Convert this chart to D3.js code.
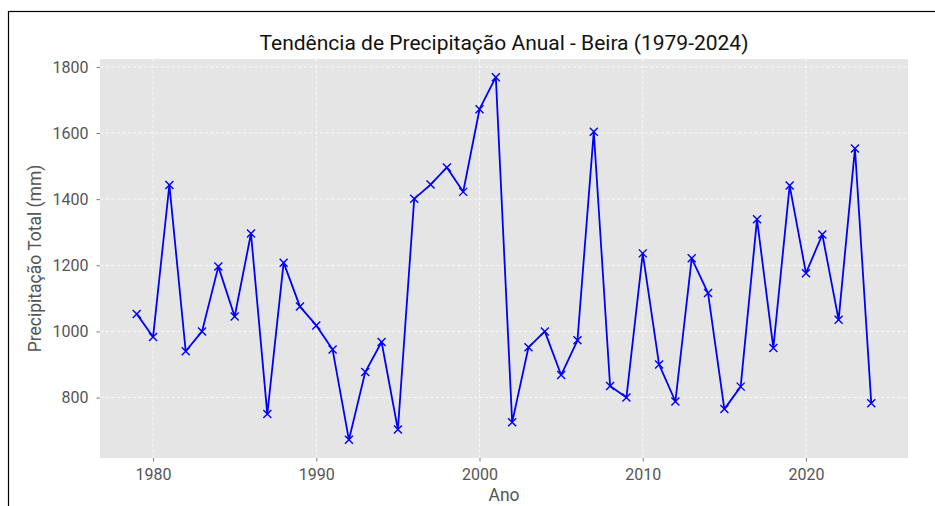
<!DOCTYPE html>
<html>
<head>
<meta charset="utf-8">
<script src="https://cdn.jsdelivr.net/npm/d3@7"></script>
<style>
  html, body { margin: 0; padding: 0; background: #fff; }
  svg { display: block; font-family: Roboto, "Open Sans", sans-serif; }
</style>
</head>
<body>
<svg id="chart" width="935" height="506"></svg>
<script>
// Annual precipitation totals for Beira, 1979-2024 (mm)
const years = d3.range(1979, 2025);
const precipitation = [
  1053, 983, 1443, 940, 1000, 1196, 1045, 1296, 750, 1208,
  1075, 1018, 945, 672, 877, 968, 703, 1401, 1444, 1496,
  1422, 1672, 1769, 725, 952, 1000, 868, 973, 1604, 835,
  800, 1236, 900, 788, 1221, 1116, 765, 833, 1339, 950,
  1441, 1176, 1293, 1035, 1553, 783
];
const xTicks = [1980, 1990, 2000, 2010, 2020];
const yTicks = [800, 1000, 1200, 1400, 1600, 1800];

const titleText = "Tendência de Precipitação Anual - Beira (1979-2024)";
const xLabel = "Ano";
const yLabel = "Precipitação Total (mm)";

const svg = d3.select("#chart");
const plot = { left: 100, right: 908, top: 59, bottom: 458 };

// Figure frame
svg.append("rect")
  .attr("x", 8.5).attr("y", 11.5)
  .attr("width", 1000).attr("height", 600)
  .attr("fill", "none").attr("stroke", "#000").attr("stroke-width", 1.2);

// 5% margins on both axes
const xPad = (years[years.length - 1] - years[0]) * 0.05;
const x = d3.scaleLinear()
  .domain([years[0] - xPad, years[years.length - 1] + xPad])
  .range([plot.left, plot.right]);
const [yMin, yMax] = d3.extent(precipitation);
const yPad = (yMax - yMin) * 0.05;
const y = d3.scaleLinear()
  .domain([yMin - yPad, yMax + yPad])
  .range([plot.bottom, plot.top]);

// Panel background
svg.append("rect")
  .attr("x", plot.left).attr("y", plot.top)
  .attr("width", plot.right - plot.left).attr("height", plot.bottom - plot.top)
  .attr("fill", "#e5e5e5");

// Grid
const grid = svg.append("g").attr("stroke", "#fff").attr("stroke-width", 0.8)
  .attr("stroke-dasharray", "3.5,2").attr("opacity", 0.9);
grid.selectAll(".gx").data(xTicks).join("line")
  .attr("x1", d => x(d)).attr("x2", d => x(d))
  .attr("y1", plot.top).attr("y2", plot.bottom);
grid.selectAll(".gy").data(yTicks).join("line")
  .attr("x1", plot.left).attr("x2", plot.right)
  .attr("y1", d => y(d)).attr("y2", d => y(d));

// Axes
const xAxis = svg.append("g")
  .attr("transform", `translate(0,${plot.bottom})`)
  .call(d3.axisBottom(x).tickValues(xTicks).tickFormat(d3.format("d")).tickSize(3.5).tickPadding(7.5));
const yAxis = svg.append("g")
  .attr("transform", `translate(${plot.left},0)`)
  .call(d3.axisLeft(y).tickValues(yTicks).tickFormat(d3.format("d")).tickSize(3.5).tickPadding(8));
[xAxis, yAxis].forEach(ax => {
  ax.select(".domain").remove();
  ax.selectAll(".tick line").attr("stroke", "#555").attr("stroke-width", 0.8);
  ax.selectAll(".tick text").attr("fill", "#555").attr("font-size", 16)
    .attr("font-family", "Roboto, 'Open Sans', sans-serif");
});

// Line
const line = d3.line().x((d, i) => x(years[i])).y(d => y(d));
svg.append("path")
  .datum(precipitation)
  .attr("d", line)
  .attr("fill", "none").attr("stroke", "#0000ff").attr("stroke-width", 1.8)
  .attr("stroke-linejoin", "round");

// 'x' markers
const m = 4;
const markers = svg.append("g").attr("stroke", "#0000ff").attr("stroke-width", 1.4);
markers.selectAll("path").data(precipitation).join("path")
  .attr("d", (d, i) => {
    const cx = x(years[i]), cy = y(d);
    return `M${cx - m},${cy - m}L${cx + m},${cy + m}M${cx - m},${cy + m}L${cx + m},${cy - m}`;
  });

// Title and axis labels
svg.append("text")
  .attr("x", (plot.left + plot.right) / 2).attr("y", 50)
  .attr("text-anchor", "middle").attr("font-size", 21).attr("fill", "#111")
  .text(titleText);
svg.append("text")
  .attr("x", (plot.left + plot.right) / 2).attr("y", 501)
  .attr("text-anchor", "middle").attr("font-size", 17.5).attr("fill", "#555")
  .text(xLabel);
svg.append("text")
  .attr("transform", `translate(41,${(plot.top + plot.bottom) / 2}) rotate(-90)`)
  .attr("text-anchor", "middle").attr("font-size", 17.5).attr("fill", "#555")
  .text(yLabel);
</script>
</body>
</html>
